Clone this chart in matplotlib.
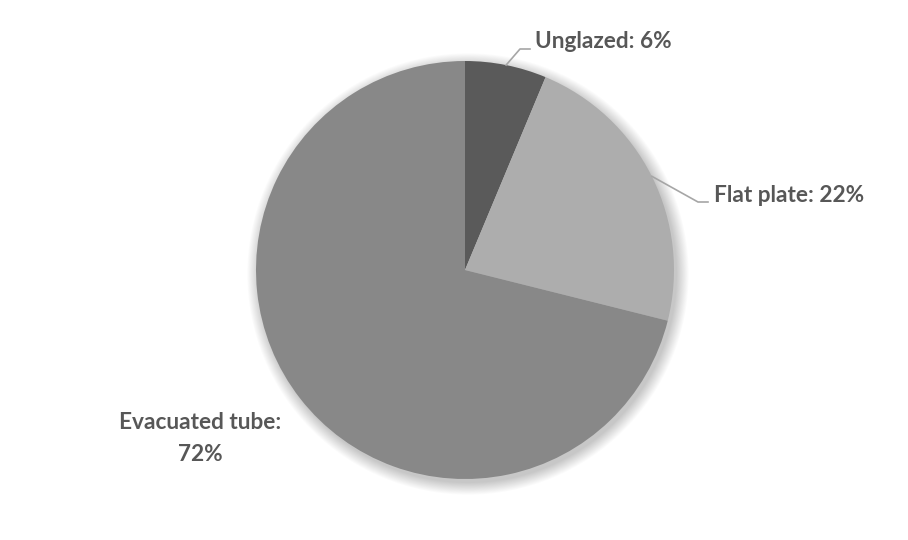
import numpy as np
import matplotlib
matplotlib.use("Agg")
import matplotlib.pyplot as plt
from matplotlib.patches import Circle

categories = ["Unglazed", "Flat plate", "Evacuated tube"]
shares = [6.3, 22.6, 71.1]
pct_labels = ["6%", "22%", "72%"]
colors = ["#5a5a5a", "#adadad", "#888888"]

W, H = 908, 540
fig = plt.figure(figsize=(W / 100, H / 100), dpi=100)
ax = fig.add_axes([0, 0, 1, 1])
ax.set_xlim(0, W)
ax.set_ylim(0, H)
ax.axis("off")

cx, cy, R = 465, 270, 209

# soft shadow
for i in range(14):
    ax.add_patch(Circle((cx + 3, cy - 4), R + i * 0.9, color="black",
                        alpha=0.016, lw=0, zorder=0))

wedges, _ = ax.pie(shares, colors=colors, startangle=90, counterclock=False,
                   center=(cx, cy), radius=R, frame=True,
                   wedgeprops=dict(linewidth=0, zorder=2))
ax.set_xlim(0, W)
ax.set_ylim(0, H)
ax.axis("off")

font = dict(family="Lato", weight="bold", color="#575757", fontsize=16.3)
lc = "#a6a6a6"

def edge_point(w):
    th = np.deg2rad((w.theta1 + w.theta2) / 2)
    return cx + R * np.cos(th), cy + R * np.sin(th)

# Unglazed
x0, y0 = edge_point(wedges[0])
ax.plot([x0, 520, 530], [y0, H - 49, H - 49], color=lc, lw=1.2, zorder=3)
ax.text(535, H - 48, f"{categories[0]}: {pct_labels[0]}", ha="left",
        va="baseline", **font)

# Flat plate
x1, y1 = edge_point(wedges[1])
ax.plot([x1, 698, 708], [y1, H - 202, H - 202], color=lc, lw=1.2, zorder=3)
ax.text(714, H - 202, f"{categories[1]}: {pct_labels[1]}", ha="left",
        va="baseline", **font)

# Evacuated tube
ax.text(200, H - 429, f"{categories[2]}:", ha="center", va="baseline", **font)
ax.text(200, H - 461, pct_labels[2], ha="center", va="baseline", **font)

fig.savefig("out.png", dpi=100, facecolor="white")
